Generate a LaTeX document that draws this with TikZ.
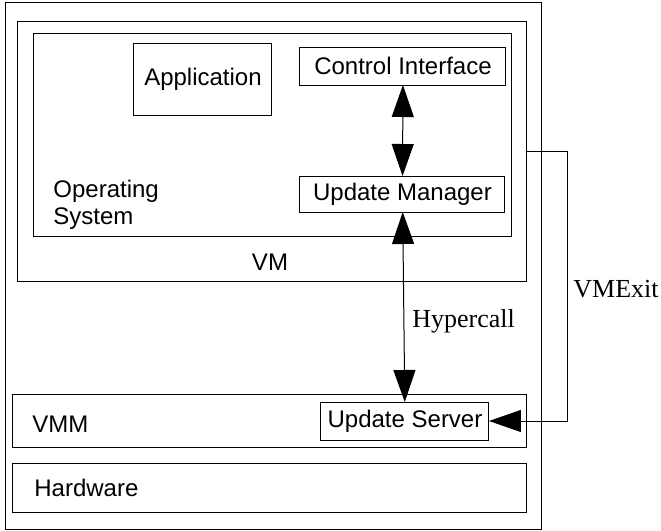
\documentclass[tikz,border=0pt]{standalone}
\usepackage{fontspec}
\setmainfont{Liberation Serif}
\setsansfont{Liberation Sans}
\usetikzlibrary{arrows.meta}

\begin{document}
\begin{tikzpicture}[x=0.5pt,y=-0.5pt,
    box/.style={draw,line width=0.5pt,inner sep=0pt,outer sep=0pt,font=\sffamily\fontsize{12}{13.5}\selectfont},
    lbl/.style={inner sep=0pt,font=\sffamily\fontsize{12}{13.5}\selectfont},
    rlbl/.style={inner sep=0pt,font=\fontsize{13}{15}\selectfont},
    tip/.style={line width=0.5pt,-{Triangle[length=16pt,width=11pt]}},
    dtip/.style={line width=0.5pt,{Triangle[length=16pt,width=11pt]}-{Triangle[length=16pt,width=11pt]}}]
  \useasboundingbox (0,0) rectangle (661,531);
  % containers
  \node[box,minimum width=268pt,minimum height=263.5pt] (host) at (274,265.5) {};
  \node[box,minimum width=254.5pt,minimum height=130pt] (vm) at (272.5,151) {};
  \node[box,minimum width=239pt,minimum height=101.5pt] (os) at (273,134.5) {};
  \node[box,minimum width=257pt,minimum height=26.5pt] (vmm) at (270,420.5) {};
  \node[box,minimum width=257pt,minimum height=24.5pt] (hw) at (270,487.5) {};
  % components
  \node[box,minimum width=69pt,minimum height=36pt] (app) at (203,79) {Application};
  \node[box,minimum width=103pt,minimum height=19pt] (ctrl) at (403,66) {Control Interface};
  \node[box,minimum width=102.5pt,minimum height=18pt] (mgr) at (402.5,194) {Update Manager};
  \node[box,minimum width=84pt,minimum height=19pt] (srv) at (405,421) {Update Server};
  % labels
  \node[lbl,anchor=base west,align=left] (oslbl) at (53,224) {Operating\\System};
  \node[lbl,anchor=base] (vmlbl) at (270,270) {VM};
  \node[lbl,anchor=base west] (vmmlbl) at (32,432) {VMM};
  \node[lbl,anchor=base west] (hwlbl) at (34,496) {Hardware};
  % connectors
  \draw[dtip] (ctrl) -- (mgr);
  \draw[dtip] (mgr) -- (srv);
  \node[rlbl,anchor=base west] (hcall) at (412,327) {Hypercall};
  \coordinate (exit) at (568,151);
  \draw[tip] (vm.east) -- (exit) |- (srv.east);
  \node[rlbl,anchor=base west] (exitlbl) at (573,297) {VMExit};
\end{tikzpicture}
\end{document}
